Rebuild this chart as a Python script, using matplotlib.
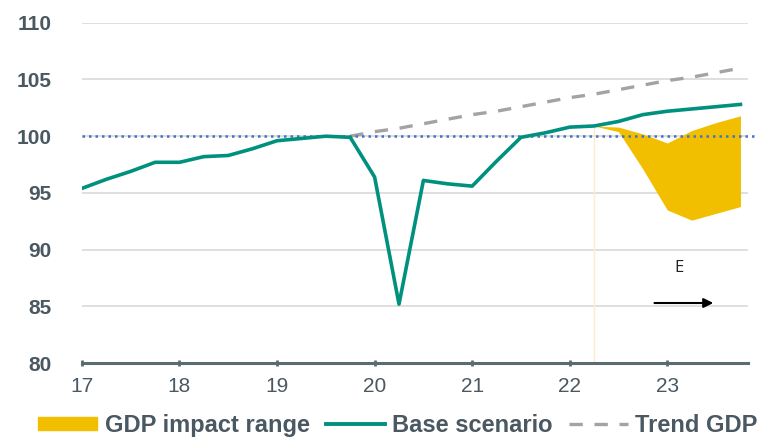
import matplotlib
matplotlib.use("Agg")
import matplotlib.pyplot as plt
from matplotlib.patches import Patch
from matplotlib.lines import Line2D

# quarterly positions 2017Q1 .. 2023Q4 (year fraction, 17 = 2017)
quarters = [17 + i * 0.25 for i in range(28)]

base = [95.4, 96.2, 96.9, 97.7, 97.7, 98.2, 98.3, 98.9,
        99.6, 99.8, 100.0, 99.9, 96.4, 85.2, 96.1, 95.8,
        95.6, 97.8, 99.9, 100.3, 100.8, 100.9, 101.3, 101.9,
        102.2, 102.4, 102.6, 102.8]

trend_x = [19.75, 20.0, 20.25, 20.5, 20.75, 21.0, 21.25, 21.5, 21.75,
           22.0, 22.25, 22.5, 22.75, 23.0, 23.25, 23.5, 23.75]
trend = [100.0, 100.4, 100.7, 101.1, 101.5, 101.9, 102.2, 102.6, 103.0,
         103.4, 103.7, 104.1, 104.5, 104.9, 105.2, 105.6, 106.0]

range_x = [22.25, 22.5, 22.75, 23.0, 23.25, 23.5, 23.75]
range_hi = [100.9, 100.8, 100.2, 99.4, 100.5, 101.2, 101.8]
range_lo = [100.9, 100.4, 97.1, 93.5, 92.6, 93.2, 93.8]

yticks = [80, 85, 90, 95, 100, 105, 110]
xticks = [17, 18, 19, 20, 21, 22, 23]

TEAL = "#00917E"
GOLD = "#F2BF00"
GREY = "#A3A3A3"
TXT = "#4A5862"

plt.rcParams["font.family"] = ["Liberation Sans", "DejaVu Sans"]

fig = plt.figure(figsize=(7.73, 4.37), dpi=100)
ax = fig.add_axes([0.106, 0.169, 0.862, 0.779])

ax.set_xlim(17, 23.83)
ax.set_ylim(80, 110)
ax.set_yticks(yticks)
ax.set_xticks(xticks)
ax.set_xticklabels([str(t) for t in xticks])

for y in yticks[1:]:
    ax.axhline(y, color="#D9D9D9", lw=1.2, zorder=0)

ax.axvline(22.25, ymin=0, ymax=0.69, color="#FCEBD0", lw=1, zorder=1)

ax.fill_between(range_x, range_lo, range_hi, color=GOLD, lw=0, zorder=2)
ax.plot(trend_x, trend, color=GREY, lw=2.4, dashes=(4, 3.5), zorder=3)
ax.plot([17, 23.93], [100, 100], color="#4472C4", lw=1.8, ls=(0, (1, 1.6)),
        zorder=4, clip_on=False)
ax.plot(quarters, base, color=TEAL, lw=2.6, zorder=5)

ax.annotate("", xy=(23.5, 85.3), xytext=(22.84, 85.3),
            arrowprops=dict(arrowstyle="-|>", color="black", lw=1.5,
                            mutation_scale=14))
ax.text(23.12, 88.4, "E", fontsize=12, family="Open Sans", color="#222222",
        ha="center", va="center")

for s in ["left", "right", "top"]:
    ax.spines[s].set_visible(False)
ax.spines["bottom"].set_color("#5C6A72")
ax.spines["bottom"].set_linewidth(2.2)

ax.tick_params(axis="y", length=0, pad=22, labelsize=15, labelcolor=TXT)
ax.tick_params(axis="x", length=4, width=2, color="#5C6A72", direction="inout",
               pad=8, labelsize=15, labelcolor=TXT)
for lbl in ax.get_yticklabels():
    lbl.set_fontweight("bold")
    lbl.set_horizontalalignment("right")

handles = [Patch(color=GOLD, label="GDP impact range"),
           Line2D([], [], color=TEAL, lw=2.8, label="Base scenario"),
           Line2D([], [], color=GREY, lw=2.4, dashes=(4, 3.5), label="Trend GDP")]
leg = fig.legend(handles=handles, loc="center", bbox_to_anchor=(0.515, 0.027),
                 ncol=3, frameon=False, fontsize=17, handlelength=2.5,
                 handleheight=0.5, handletextpad=0.3, columnspacing=0.7,
                 labelcolor=TXT, borderpad=0)
for t in leg.get_texts():
    t.set_fontweight("bold")

fig.savefig("out.png", dpi=100)
